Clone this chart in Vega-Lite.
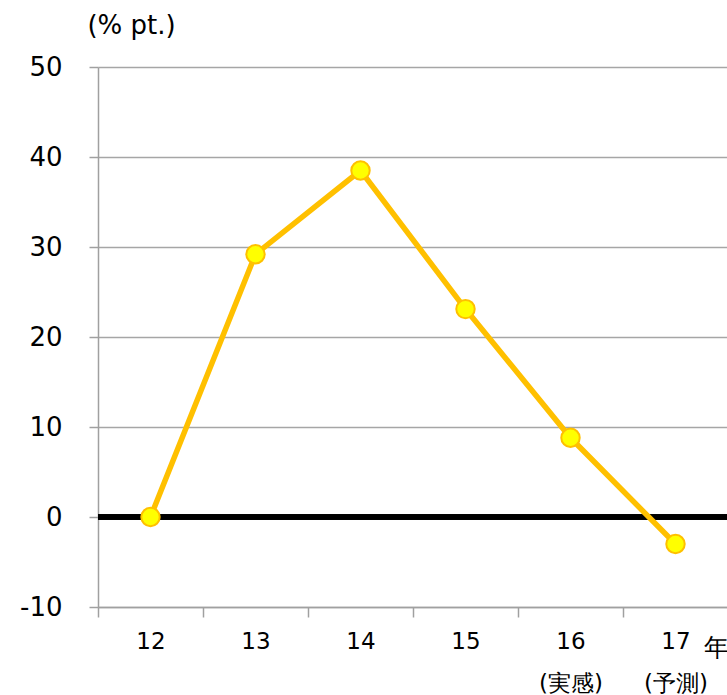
{
  "$schema": "https://vega.github.io/schema/vega-lite/v6.json",
  "width": 630,
  "height": 540,
  "autosize": {"type": "none"},
  "padding": {"left": 98, "top": 67, "right": 0, "bottom": 88},
  "background": "white",
  "config": {
    "view": {"stroke": null},
    "font": "DejaVu Sans",
    "axis": {
      "labelFont": "DejaVu Sans",
      "titleFont": "DejaVu Sans",
      "labelColor": "#000000",
      "titleColor": "#000000",
      "domainColor": "#a0a0a0",
      "tickColor": "#a0a0a0",
      "gridColor": "#a6a6a6",
      "domainWidth": 1.5,
      "tickWidth": 1.5,
      "gridWidth": 1.5
    }
  },
  "data": {
    "values": [
      {"year": "12", "value": 0},
      {"year": "13", "value": 29.2},
      {"year": "14", "value": 38.5},
      {"year": "15", "value": 23.1},
      {"year": "16", "value": 8.8},
      {"year": "17", "value": -3.0}
    ]
  },
  "encoding": {
    "x": {
      "field": "year",
      "type": "ordinal",
      "sort": null,
      "scale": {"paddingInner": 0, "paddingOuter": 0},
      "axis": {
        "labelAngle": 0,
        "labelFontSize": 23,
        "labelPadding": 13,
        "labelLineHeight": 42,
        "labelExpr": "datum.label == '16' ? ['16', '(実感)'] : datum.label == '17' ? ['17', '(予測)'] : datum.label",
        "tickBand": "extent",
        "tickSize": 10,
        "grid": false,
        "title": "年",
        "titleFontSize": 25,
        "titleFontWeight": "normal",
        "titleAlign": "right",
        "titleBaseline": "middle",
        "titleAnchor": "end",
        "titleX": 630,
        "titleY": 40
      }
    },
    "y": {
      "field": "value",
      "type": "quantitative",
      "scale": {"domain": [-10, 50], "nice": false, "zero": false},
      "axis": {
        "values": [-10, 0, 10, 20, 30, 40, 50],
        "labelExpr": "replace(datum.label, '−', '-')",
        "labelFontSize": 26,
        "labelPadding": 27,
        "tickSize": 9,
        "grid": true,
        "title": "(% pt.)",
        "titleFontSize": 26,
        "titleFontWeight": "normal",
        "titleAngle": 0,
        "titleAlign": "center",
        "titleBaseline": "middle",
        "titleX": 33,
        "titleY": -42
      }
    }
  },
  "layer": [
    {
      "mark": {"type": "rule", "color": "#000000", "strokeWidth": 5},
      "encoding": {
        "y": {"datum": 0},
        "x": null
      }
    },
    {
      "mark": {"type": "line", "color": "#FFC000", "strokeWidth": 5.5}
    },
    {
      "mark": {
        "type": "point",
        "filled": true,
        "fill": "#FFFF00",
        "stroke": "#FFC000",
        "strokeWidth": 2,
        "size": 340,
        "opacity": 1
      }
    }
  ]
}
